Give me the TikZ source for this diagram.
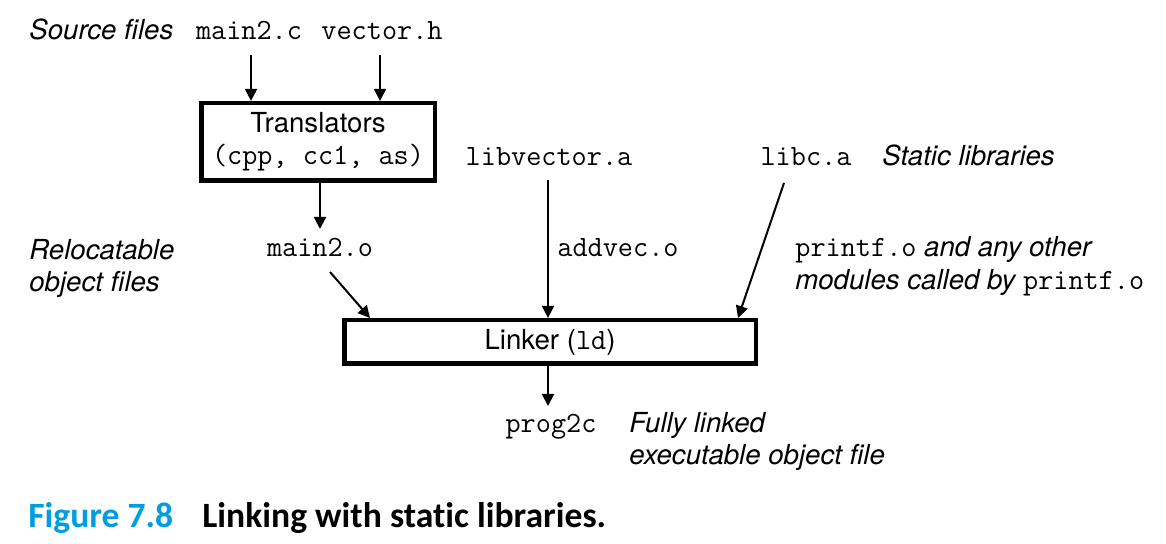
\documentclass[tikz,border=0pt]{standalone}
\usepackage{fontspec}
\setmainfont{TeX Gyre Heros}
\newfontfamily\capfont[Ligatures=NoCommon]{Carlito}
\usetikzlibrary{arrows.meta}
\definecolor{figblue}{RGB}{0,158,224}

\begin{document}
\begin{tikzpicture}[x=0.5pt,y=-0.5pt,
        >={Triangle[length=6pt,width=6pt]},
        every node/.style={inner sep=0pt},
        txt/.style={font=\fontsize{13.8}{16}\selectfont},
        note/.style={font=\fontsize{13.8}{16}\selectfont\itshape, anchor=base west},
        code/.style={font=\fontsize{14.7}{16}\selectfont\ttfamily, anchor=base},
        box/.style={draw, line width=2.3pt, align=center, txt}]
    \useasboundingbox (0,0) rectangle (1166,544);

    \node[note] (srcnote) at (29,40) {Source files};
    \node[code] (main2c) at (249,40) {main2.c};
    \node[code] (vectorh) at (382,40) {vector.h};

    \node[box, minimum width=116.8pt, minimum height=38.8pt] (trans) at (318,142)
        {\raisebox{-1pt}{Translators}\\[1pt]{\fontsize{14.7}{16}\selectfont\ttfamily(cpp, cc1, as)}};

    \node[code] (libvec) at (549,166) {libvector.a};
    \node[code] (libc) at (806,166) {libc.a};
    \node[note] (libnote) at (882,166) {Static libraries};

    \node[code] (main2o) at (320,257) {main2.o};
    \node[note] (relnote1) at (29,260) {Relocatable};
    \node[note] (relnote2) at (29,292) {object files};
    \node[code, anchor=base west] (addvec) at (557,257) {addvec.o};
    \node[note] (prnote1) at (795,257) {{\upshape\fontsize{14.7}{16}\selectfont\ttfamily printf.o} and any other};
    \node[note] (prnote2) at (795,290) {modules called by {\upshape\fontsize{14.7}{16}\selectfont\ttfamily printf.o}};

    \node[box, minimum width=205.8pt, minimum height=21.8pt] (linker) at (550,342)
        {Linker ({\fontsize{14.7}{16}\selectfont\ttfamily ld})};

    \node[code] (prog) at (551,433) {prog2c};
    \node[note] (exnote1) at (629,433) {Fully linked};
    \node[note] (exnote2) at (629,465) {executable object file};

    % caption
    \node[anchor=base west, font=\capfont\bfseries\fontsize{17.8}{20}\selectfont, text=figblue] (fignum) at (28,527) {Figure 7.8};
    \node[anchor=base west, font=\capfont\bfseries\fontsize{17.8}{20}\selectfont] (figtitle) at (202,527) {Linking with static libraries.};

    % connectors
    \coordinate (c1) at (251,55);
    \coordinate (c2) at (380,55);
    \coordinate (o1) at (330,272);
    \coordinate (l1) at (370,318);
    \coordinate (v1) at (548,180);
    \coordinate (a1) at (784,183);
    \coordinate (a2) at (738,318);
    \begin{scope}[line width=1pt]
        \draw[->] (c1) -- (c1 |- trans.north);
        \draw[->] (c2) -- (c2 |- trans.north);
        \draw[->] (trans.south -| main2o) -- (320,229);
        \draw[->] (o1) -- (l1);
        \draw[->] (v1) -- (v1 |- linker.north);
        \draw[->] (a1) -- (a2);
        \draw[->] (linker.south -| 548,0) -- (548,406);
    \end{scope}
\end{tikzpicture}
\end{document}
